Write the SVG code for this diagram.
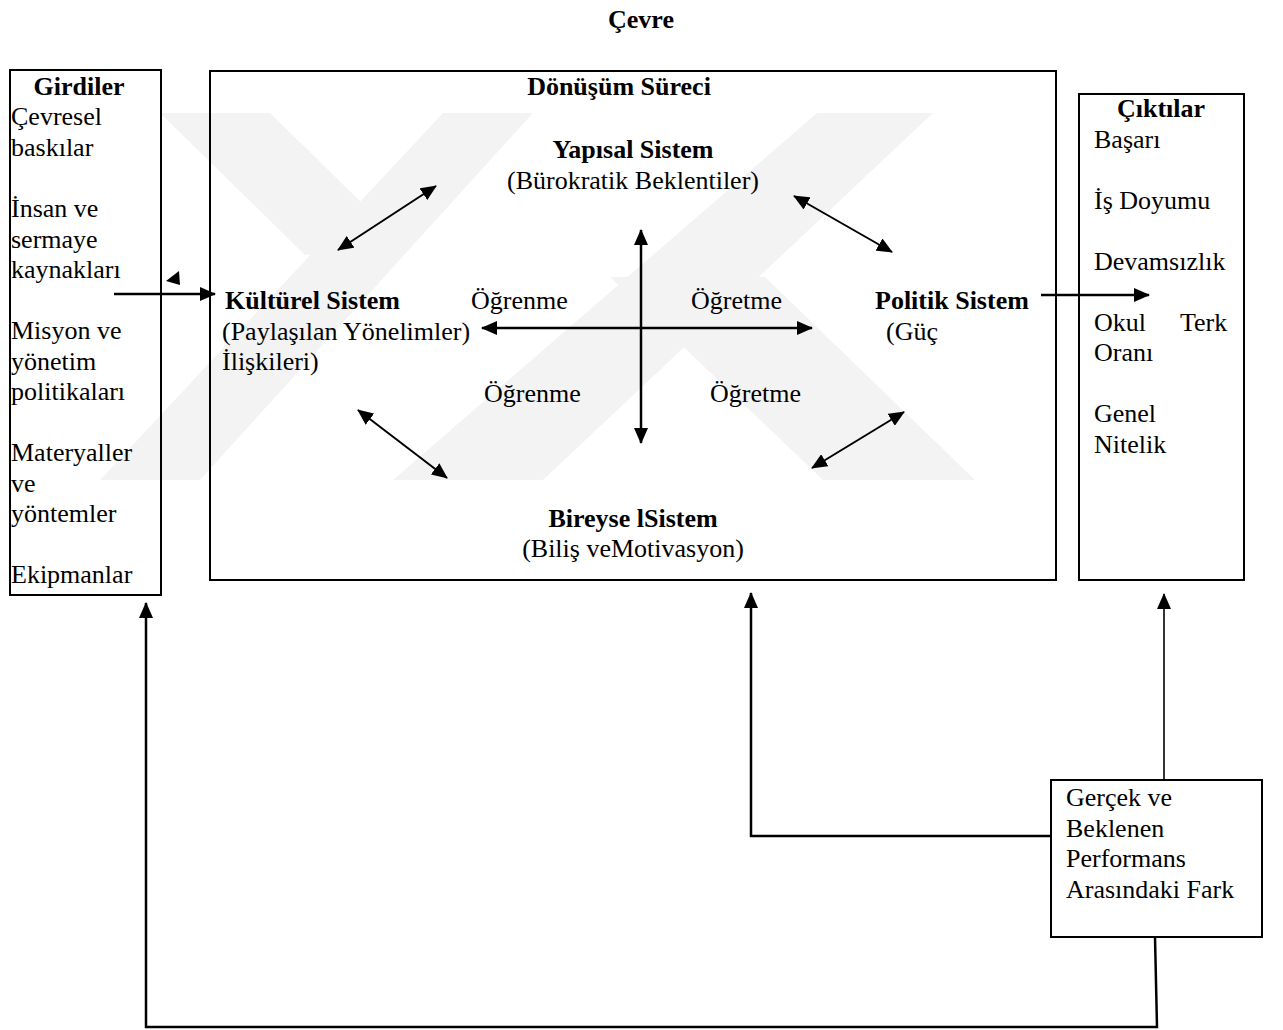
<svg xmlns="http://www.w3.org/2000/svg" width="1283" height="1030" viewBox="0 0 1283 1030">
<style>
text{font-family:"Liberation Serif","Times New Roman",serif;font-size:26px;fill:#000}
.b{font-weight:bold}
.c{text-anchor:middle}
.box{fill:none;stroke:#000;stroke-width:2}
.ln{fill:none;stroke:#000;stroke-width:2.5}
.dg{fill:none;stroke:#000;stroke-width:2}
.wm{fill:#f3f3f3}
</style>
<defs>
<marker id="ah" markerUnits="userSpaceOnUse" markerWidth="16" markerHeight="14" refX="15" refY="7" orient="auto-start-reverse" viewBox="0 0 16 14">
<path d="M0,0 L16,7 L0,14 z" fill="#000"/>
</marker>
</defs>
<rect width="1283" height="1030" fill="#fff"/>
<g id="watermark">
<polygon class="wm" points="100,480 200,480 533,113 443,113"/>
<polygon class="wm" points="160,113 270,113 410,250 305,255"/>
<polygon class="wm" points="393,480 543,480 933,113 817,113"/>
<polygon class="wm" points="610,277 765,277 975,480 823,480"/>
</g>
<text id="cevre" class="b c" x="641" y="28">Çevre</text>
<g id="girdiler">
<rect class="box" x="10" y="70" width="151" height="525"/>
<text class="b c" x="79" y="95">Girdiler</text>
<text x="11" y="125">Çevresel</text>
<text x="11" y="155.5">baskılar</text>
<text x="11" y="217">İnsan ve</text>
<text x="11" y="247.5">sermaye</text>
<text x="11" y="278">kaynakları</text>
<text x="11" y="339">Misyon ve</text>
<text x="11" y="369.5">yönetim</text>
<text x="11" y="400">politikaları</text>
<text x="11" y="461">Materyaller</text>
<text x="11" y="491.5">ve</text>
<text x="11" y="522">yöntemler</text>
<text x="11" y="583">Ekipmanlar</text>
</g>
<g id="donusum">
<rect class="box" x="210" y="71" width="846" height="509"/>
<text class="b c" x="619" y="95">Dönüşüm Süreci</text>
</g>
<g id="yapisal">
<text class="b c" x="633" y="158">Yapısal Sistem</text>
<text class="c" x="633" y="188.5">(Bürokratik Beklentiler)</text>
</g>
<g id="kulturel">
<text class="b" x="225" y="309">Kültürel Sistem</text>
<text x="222" y="339.5">(Paylaşılan Yönelimler)</text>
<text x="222" y="370">İlişkileri)</text>
</g>
<g id="politik">
<text class="b" x="875" y="309">Politik Sistem</text>
<text x="886" y="339.5">(Güç</text>
</g>
<g id="bireysel">
<text class="b c" x="633" y="527">Bireyse lSistem</text>
<text class="c" x="633" y="557">(Biliş veMotivasyon)</text>
</g>
<g id="labels">
<text x="471" y="309">Öğrenme</text>
<text x="691" y="309">Öğretme</text>
<text x="484" y="402">Öğrenme</text>
<text x="710" y="402">Öğretme</text>
</g>
<g id="ciktilar">
<rect class="box" x="1079" y="94" width="165" height="486"/>
<text class="b c" x="1161" y="117">Çıktılar</text>
<text x="1094" y="147.5">Başarı</text>
<text x="1094" y="208.5">İş Doyumu</text>
<text x="1094" y="269.5">Devamsızlık</text>
<text x="1094" y="330.5">Okul<tspan x="1180">Terk</tspan></text>
<text x="1094" y="361">Oranı</text>
<text x="1094" y="422">Genel</text>
<text x="1094" y="452.5">Nitelik</text>
</g>
<g id="fark">
<rect class="box" x="1051" y="780" width="211" height="157"/>
<text x="1066" y="806">Gerçek ve</text>
<text x="1066" y="836.5">Beklenen</text>
<text x="1066" y="867">Performans</text>
<text x="1066" y="897.5">Arasındaki Fark</text>
</g>
<g id="connectors">
<line class="ln" x1="114" y1="294" x2="215" y2="294" marker-end="url(#ah)"/>
<polygon points="166,281 179,271 180,285" fill="#000"/>
<line class="ln" x1="1041" y1="295" x2="1149" y2="295" marker-end="url(#ah)"/>
<line class="ln" x1="641" y1="443" x2="641" y2="230" marker-start="url(#ah)" marker-end="url(#ah)"/>
<line class="ln" x1="812" y1="328" x2="482" y2="328" marker-start="url(#ah)" marker-end="url(#ah)"/>
<line class="dg" x1="338" y1="250" x2="436" y2="186" marker-start="url(#ah)" marker-end="url(#ah)"/>
<line class="dg" x1="794" y1="196" x2="892" y2="252" marker-start="url(#ah)" marker-end="url(#ah)"/>
<line class="dg" x1="358" y1="410" x2="447" y2="478" marker-start="url(#ah)" marker-end="url(#ah)"/>
<line class="dg" x1="812" y1="468" x2="904" y2="412" marker-start="url(#ah)" marker-end="url(#ah)"/>
<polyline class="ln" points="1051,836 751,836 751,593" marker-end="url(#ah)"/>
<line x1="1164" y1="780" x2="1164" y2="594" stroke="#000" stroke-width="1.6" marker-end="url(#ah)"/>
<polyline class="ln" points="1155,937 1157,1027 146,1027 146,603" marker-end="url(#ah)"/>
</g>
</svg>
